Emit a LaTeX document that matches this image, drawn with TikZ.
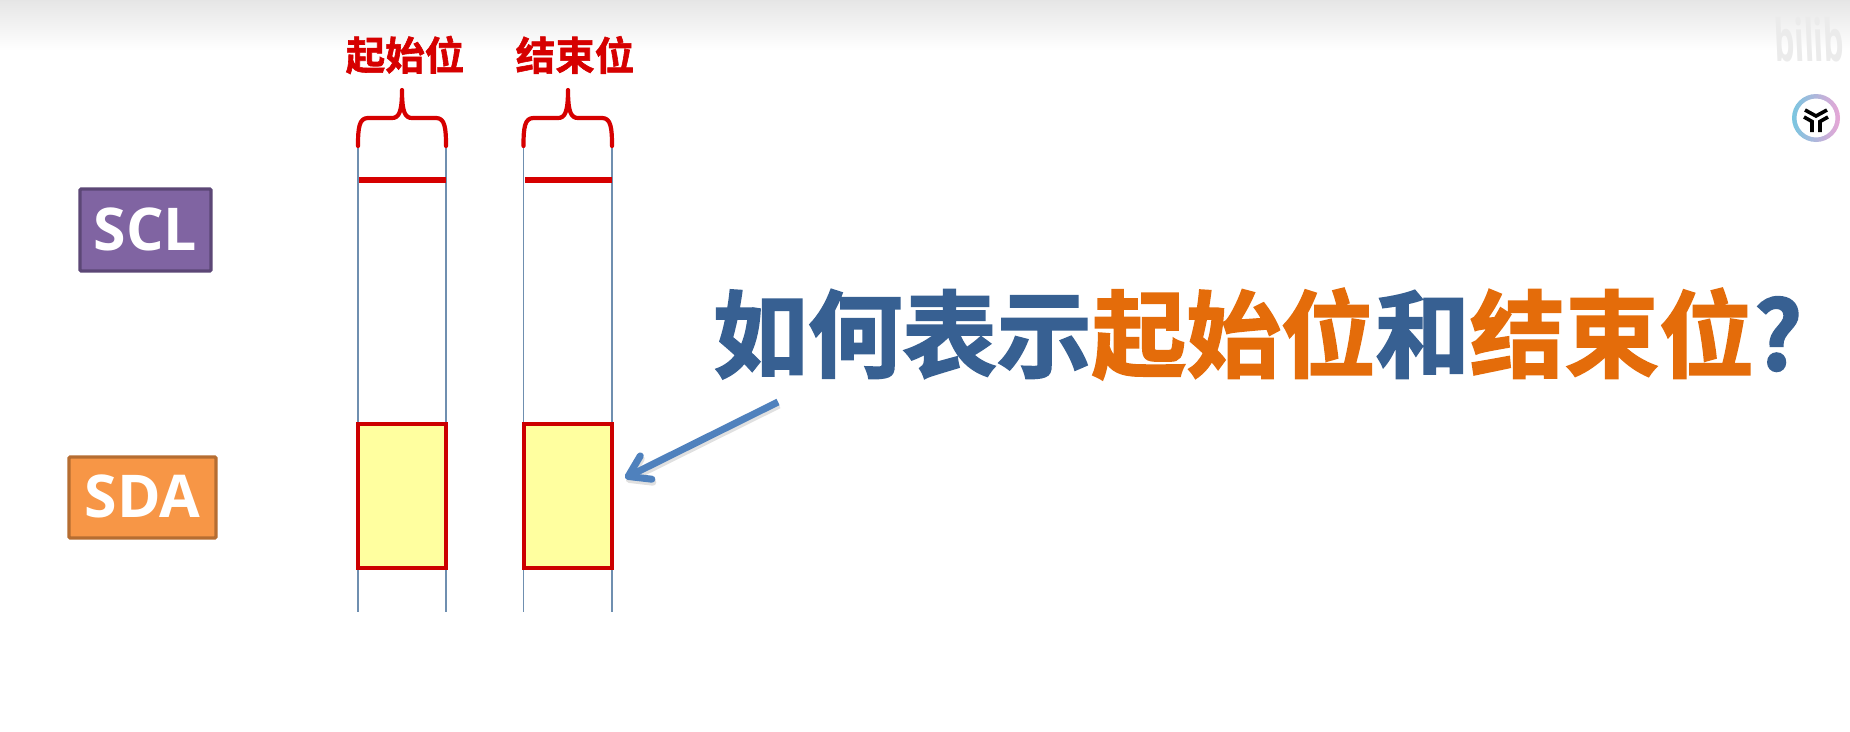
\documentclass[tikz,border=0pt]{standalone}
\usepackage{fontspec}
\setmainfont{Open Sans}
\newfontfamily\cjk{Noto Sans CJK SC}[BoldFont={* Bold},BoldFeatures={FakeBold=1.5}]
\newfontfamily\cjkh{Noto Sans CJK SC}[BoldFont={* Bold},BoldFeatures={FakeBold=2}]
\usetikzlibrary{arrows.meta}
\definecolor{vline}{HTML}{6F8FB0}
\definecolor{redline}{HTML}{D60000}
\definecolor{rectred}{HTML}{CC0000}
\definecolor{yfill}{HTML}{FFFF9F}
\definecolor{tblue}{HTML}{376092}
\definecolor{torange}{HTML}{E46C0A}
\definecolor{arrowblue}{HTML}{4F81BD}
\definecolor{purplefill}{HTML}{8064A2}
\definecolor{purpleedge}{HTML}{5C4776}
\definecolor{orangefill}{HTML}{F79646}
\definecolor{orangeedge}{HTML}{B66D31}
\definecolor{ringa}{HTML}{79C6E0}
\definecolor{ringb}{HTML}{E8A6D6}
\tikzset{
  x=1pt,y=-1pt,
  guide/.style={draw=vline,line width=1.5pt},
  level/.style={draw=redline,line width=6pt},
  bitbox/.style={draw=rectred,fill=yfill,line width=3.8pt,inner sep=0pt,minimum height=144pt},
  bracepath/.style={draw=redline,line width=4.2pt,line cap=round,line join=round},
  sigbox/.style={rectangle,rounded corners=1.2pt,line width=3.4pt,inner sep=0pt,text=white,font=\fontsize{59}{59}\selectfont\bfseries},
  smalllabel/.style={inner sep=0pt,text=redline,font=\cjk\fontsize{39.5}{39.5}\selectfont\bfseries},
  logostroke/.style={draw=black,line width=3.6pt,line join=miter},
}
\begin{document}
\begin{tikzpicture}
\useasboundingbox (0,0) rectangle (1850,731);
\fill[white] (0,0) rectangle (1850,731);
\shade[top color=black!10,bottom color=white] (0,0) rectangle (1850,50);
% watermark
\node[inner sep=0pt,text=black!8,font=\fontsize{58}{58}\selectfont\bfseries,anchor=west,xscale=.55,xslant=-.08] (wm) at (1774,40) {bilib};
% logo
\shade[left color=ringa,right color=ringb,even odd rule]
  (1816,118) circle (24) (1816,118) circle (19.5);
\draw[logostroke] (1805,110) -- (1816,116) -- (1827,110);
\draw[logostroke] (1804,117) -- (1812,121.5) -- (1812,132);
\draw[logostroke] (1828,117) -- (1820,121.5) -- (1820,132);
% signal boxes
\node[sigbox,draw=purpleedge,fill=purplefill,minimum width=131pt,minimum height=82pt] (scl) at (145.5,230) {\raisebox{2.5pt}{SCL}};
\node[sigbox,draw=orangeedge,fill=orangefill,minimum width=147pt,minimum height=81pt] (sda) at (142.5,497.5) {\raisebox{2pt}{SDA}};
% guide coordinates
\coordinate (a1) at (358,146); \coordinate (a2) at (358,612);
\coordinate (b1) at (446,146); \coordinate (b2) at (446,612);
\coordinate (c1) at (523.5,146); \coordinate (c2) at (523.5,612);
\coordinate (d1) at (612,146); \coordinate (d2) at (612,612);
\draw[guide] (a1)--(a2); \draw[guide] (b1)--(b2); \draw[guide] (c1)--(c2); \draw[guide] (d1)--(d2);
% yellow bits
\node[bitbox,minimum width=88pt] (bit1) at (401.8,495.6) {};
\node[bitbox,minimum width=88pt] (bit2) at (567.7,495.6) {};
% SCL high level
\coordinate (h1) at (359,180); \coordinate (h2) at (445.5,180);
\coordinate (h3) at (525,180); \coordinate (h4) at (611.5,180);
\draw[level] (h1)--(h2); \draw[level] (h3)--(h4);
% labels
\node[smalllabel] (start) at (405,55) {起始位};
\node[smalllabel] (stop) at (575,55) {结束位};
% braces
\draw[bracepath] (a1) .. controls (358,128) and (359,118) .. (368,118) -- (392,118)
  .. controls (399,118) and (402,112) .. (402,90)
  .. controls (402,112) and (405,118) .. (412,118) -- (436,118)
  .. controls (445,118) and (446,128) .. (b1);
\draw[bracepath] (c1) .. controls (523.5,128) and (524.5,118) .. (533.5,118) -- (558,118)
  .. controls (565,118) and (568,112) .. (568,90)
  .. controls (568,112) and (571,118) .. (578,118) -- (602,118)
  .. controls (611,118) and (612,128) .. (d1);
% title
\node[inner sep=0pt,anchor=west,font=\cjkh\fontsize{94.6}{94.6}\selectfont\bfseries] (title) at (713,334)
  {\textcolor{tblue}{如何表示}\textcolor{torange}{起始位}\textcolor{tblue}{和}\textcolor{torange}{结束位}\textcolor{tblue}{?}};
% arrow
\coordinate (arrowstart) at (778,402);
\coordinate (arrowend) at (625,478);
\coordinate (shadowstart) at (779,405);
\coordinate (shadowend) at (626,481);
\draw[black,opacity=.12,line width=7pt,-{Straight Barb[length=20pt,width=26pt,line width=7pt,round]}] (shadowstart) -- (shadowend);
\draw[arrowblue,line width=7pt,-{Straight Barb[length=20pt,width=26pt,line width=7pt,round]}] (arrowstart) -- (arrowend);
\end{tikzpicture}
\end{document}
